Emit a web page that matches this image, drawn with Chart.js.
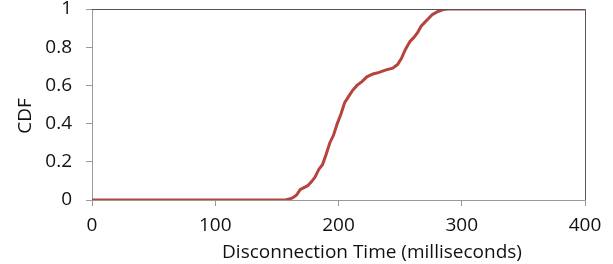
<!DOCTYPE html>
<html>
<head>
<meta charset="utf-8">
<script src="https://cdn.jsdelivr.net/npm/chart.js@4"></script>
<style>
  html, body { margin: 0; padding: 0; background: #fff; }
  #wrap { width: 613px; height: 264px; }
</style>
</head>
<body>
<div id="wrap"><canvas id="cdfChart" width="613" height="264"></canvas></div>
<script>
// disconnection time (ms) and CDF
const disconnectMs = [0, 157, 160, 163, 166, 169, 172, 175, 178, 181, 184, 187, 190, 193, 196, 199,
    202, 205, 208, 211, 215, 219, 223, 228, 233, 238, 244, 248, 251, 254, 258, 261, 264, 267,
    270, 273, 276, 280, 285, 289, 400];
const cdf = [0, 0, 0.005, 0.012, 0.026, 0.055, 0.065, 0.075, 0.095, 0.12, 0.16, 0.185, 0.24, 0.30,
    0.34, 0.40, 0.45, 0.51, 0.54, 0.57, 0.60, 0.62, 0.645, 0.66, 0.668, 0.68, 0.69, 0.71, 0.74,
    0.785, 0.83, 0.85, 0.875, 0.91, 0.93, 0.95, 0.97, 0.985, 0.997, 1, 1];
const xTicks = [0, 100, 200, 300, 400];
const yTicks = [0, 0.2, 0.4, 0.6, 0.8, 1];
const xTitle = "Disconnection Time (milliseconds)";
const yTitle = "CDF";

const font = "'Open Sans', sans-serif";

// top + right frame lines, and the axis titles (placed like the original, a bit off-centre)
const frame = {
    id: "frame",
    afterDatasetsDraw(chart) {
        const { ctx, chartArea: a } = chart;
        ctx.save();
        ctx.strokeStyle = "#555";
        ctx.lineWidth = 1;
        ctx.beginPath();
        ctx.moveTo(a.left, a.top + 0.5);
        ctx.lineTo(a.right + 0.5, a.top + 0.5);
        ctx.lineTo(a.right + 0.5, a.bottom);
        ctx.stroke();

        ctx.fillStyle = "#111";
        ctx.font = "19px " + font;
        ctx.textAlign = "center";
        ctx.textBaseline = "alphabetic";
        ctx.fillText(xTitle, 372, 258);

        ctx.translate(31, 116);
        ctx.rotate(-Math.PI / 2);
        ctx.fillText(yTitle, 0, 0);
        ctx.restore();
    }
};

new Chart(document.getElementById("cdfChart"), {
    type: "line",
    data: {
        datasets: [{
            data: disconnectMs.map((x, i) => ({ x, y: cdf[i] })),
            borderColor: "#B5443E",
            borderWidth: 3,
            pointRadius: 0,
            tension: 0,
            fill: false
        }]
    },
    options: {
        responsive: false,
        animation: false,
        layout: { padding: { top: 9, right: 28, left: 0, bottom: 0 } },
        plugins: { legend: { display: false }, tooltip: { enabled: false } },
        scales: {
            x: {
                type: "linear",
                min: 0, max: 400,
                afterBuildTicks: s => { s.ticks = xTicks.map(v => ({ value: v })); },
                grid: { drawOnChartArea: false, tickLength: 6, color: "#999" },
                border: { color: "#999" },
                ticks: { font: { family: font, size: 19 }, color: "#111", padding: 8, maxRotation: 0 },
                afterFit: s => { s.height = 64; s.paddingLeft = 0; s.paddingRight = 0; }
            },
            y: {
                min: 0, max: 1,
                afterBuildTicks: s => { s.ticks = yTicks.map(v => ({ value: v })); },
                grid: { drawOnChartArea: false, tickLength: 6, color: "#999" },
                border: { color: "#999" },
                ticks: { font: { family: font, size: 19 }, color: "#111", padding: 14,
                    callback: v => String(v) },
                afterFit: s => { s.width = 92; s.paddingTop = 0; s.paddingBottom = 0; }
            }
        }
    },
    plugins: [frame]
});
</script>
</body>
</html>
